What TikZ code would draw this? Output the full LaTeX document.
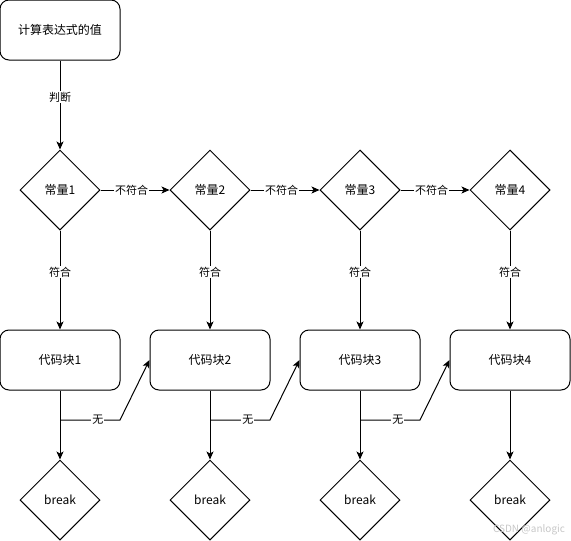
\documentclass[tikz,border=0pt]{standalone}
\usepackage{fontspec}
\setmainfont{Noto Sans CJK SC}
\usetikzlibrary{shapes.geometric,arrows.meta}
\tikzset{
  box/.style={draw, line width=1pt, rounded corners=9pt, minimum width=120pt, minimum height=60pt, inner sep=0pt, font=\fontsize{12pt}{14pt}\selectfont},
  dia/.style={draw, line width=1pt, diamond, shape aspect=1, minimum width=80pt, minimum height=80pt, inner sep=0pt, font=\fontsize{12pt}{14pt}\selectfont},
  conn/.style={line width=1pt, -{Stealth[length=8pt,width=7pt,inset=2pt]}},
  lab/.style={fill=white, inner sep=1pt, font=\fontsize{11pt}{13pt}\selectfont}
}
\begin{document}
\begin{tikzpicture}[x=1pt,y=-1pt]
\useasboundingbox (0,0) rectangle (571,541);
\node[box] (start) at (60,30) {计算表达式的值};
\foreach \i in {1,2,3,4}{
  \pgfmathsetmacro{\cx}{60+150*(\i-1)}
  \node[dia] (d\i) at (\cx,190) {常量\i};
  \node[box] (c\i) at (\cx,360) {代码块\i};
  \node[dia] (b\i) at (\cx,500) {break};
  \draw[conn] (d\i.south) -- node[lab, pos=0.42] {符合} (c\i.north);
  \draw[conn] (c\i.south) -- (b\i.north);
}
\draw[conn] (start.south) -- node[lab, pos=0.41] {判断} (d1.north);
\draw[conn] (d1.east) -- node[lab, pos=0.45] {不符合} (d2.west);
\draw[conn] (d2.east) -- node[lab, pos=0.45] {不符合} (d3.west);
\draw[conn] (d3.east) -- node[lab, pos=0.45] {不符合} (d4.west);
\coordinate (s1) at (60,420);  \coordinate (k1) at (120,420);
\coordinate (s2) at (210,420); \coordinate (k2) at (270,420);
\coordinate (s3) at (360,420); \coordinate (k3) at (420,420);
\draw[conn] (s1) -- node[lab, pos=0.63] {无} (k1) -- (c2.west);
\draw[conn] (s2) -- node[lab, pos=0.63] {无} (k2) -- (c3.west);
\draw[conn] (s3) -- node[lab, pos=0.63] {无} (k3) -- (c4.west);
\node[text=black!22, font=\fontsize{10pt}{12pt}\selectfont, inner sep=0pt] (wm) at (529,530) {CSDN @anlogic};
\end{tikzpicture}
\end{document}
